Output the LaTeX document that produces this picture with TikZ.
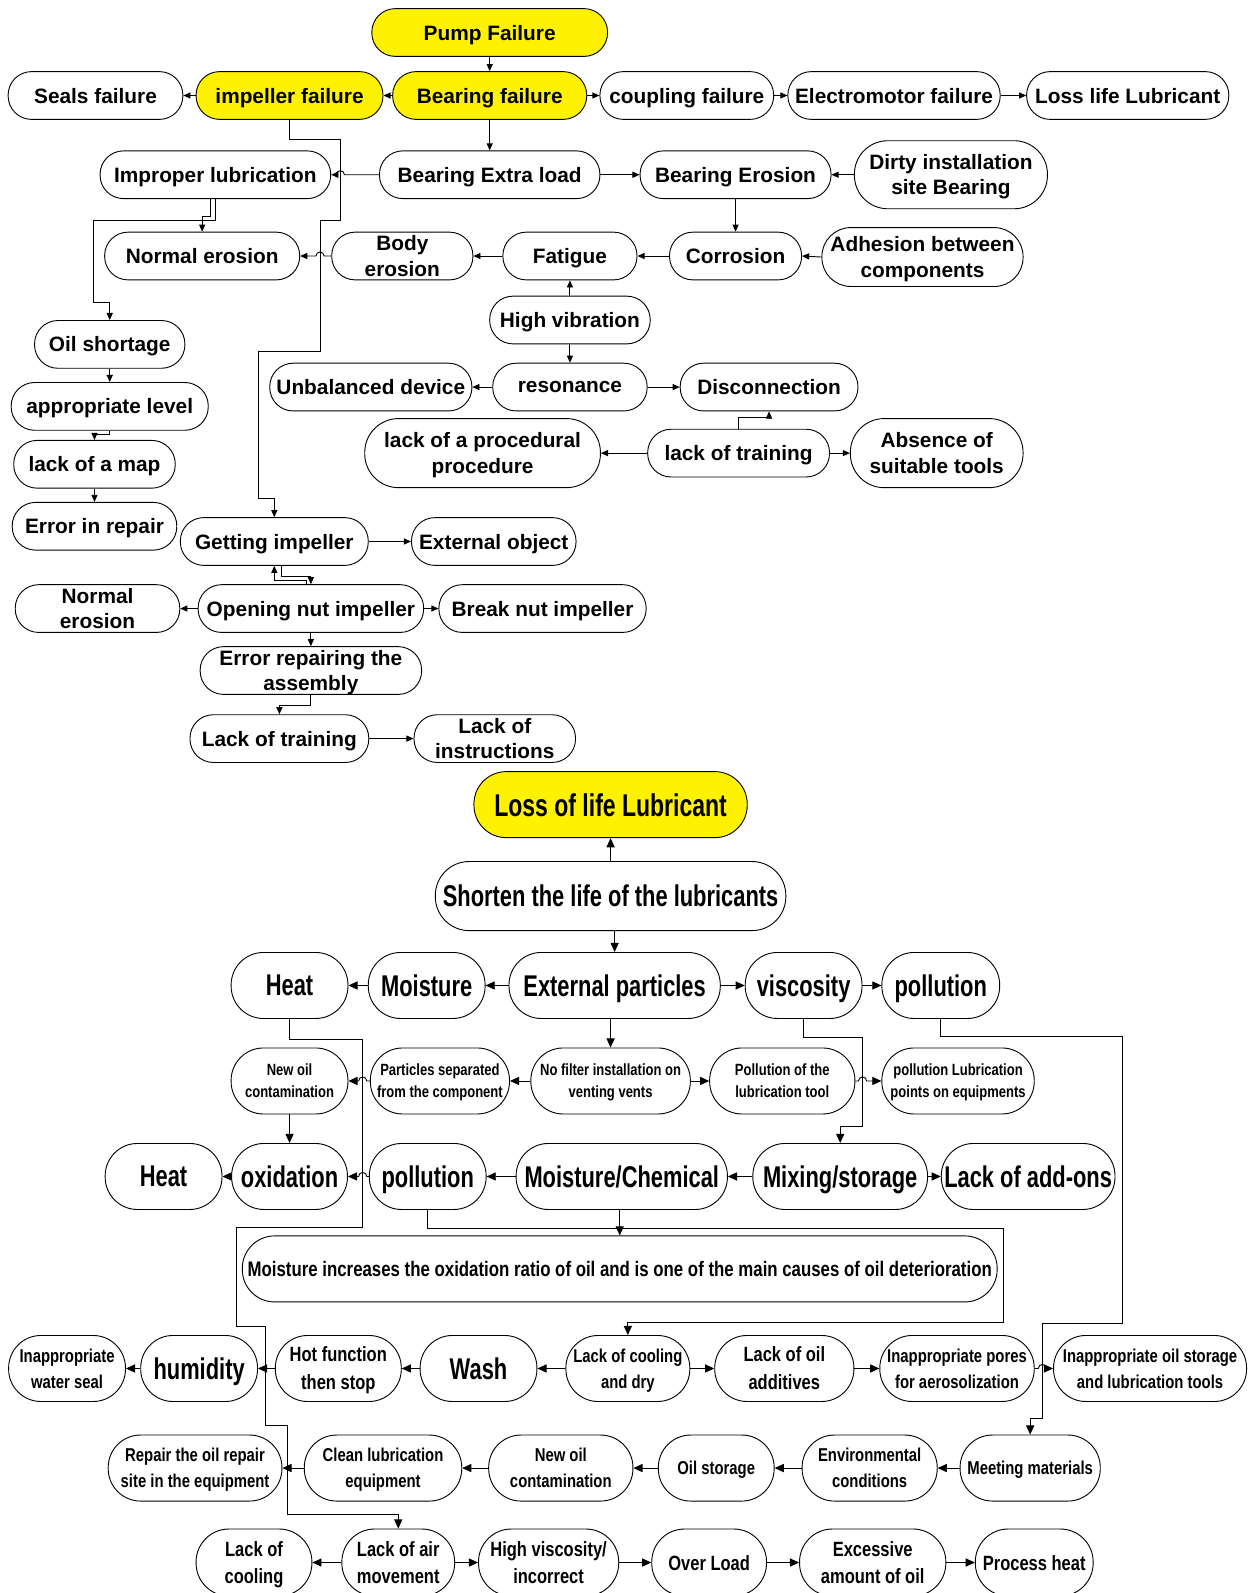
\documentclass[tikz,border=0pt]{standalone}
\usepackage{fontspec}
\setmainfont{Liberation Sans}
\newfontfamily\upf{Liberation Sans}
\newfontfamily\nA[FakeStretch=0.73]{Liberation Sans}
\newfontfamily\nB[FakeStretch=0.8]{Liberation Sans}
\newcommand\fntU{\upf\bfseries\fontsize{20.5}{25}\selectfont}
\newcommand\fntL{\nA\bfseries\fontsize{29.5}{33}\selectfont}
\newcommand\fntLL{\nA\bfseries\fontsize{31}{35}\selectfont}
\newcommand\fntM{\nB\bfseries\fontsize{18.3}{25.5}\selectfont}
\newcommand\fntMM{\nB\bfseries\fontsize{20.3}{27.5}\selectfont}
\newcommand\fntS{\nB\bfseries\fontsize{16}{21.5}\selectfont}
\newcommand\fntX{\nB\bfseries\fontsize{20.7}{25}\selectfont}
\usetikzlibrary{arrows.meta}
\tikzset{
 bxs/.style={draw, line width=0.9pt, rectangle, inner sep=0pt, align=center, fill=white, text depth=0pt},
 yel/.style={fill=yellow},
 con/.style={line width=0.9pt},
 ar/.style={con, -{Triangle[length=7pt,width=6pt]}},
 arL/.style={con, -{Triangle[length=9pt,width=8pt]}},
}
\newcommand\bx[7]{\node[bxs,minimum width=#4pt,minimum height=#5pt,rounded corners=#5pt*0.49,#6] (#1) at (#2,#3) {#7};}
\begin{document}
\begin{tikzpicture}[x=1pt,y=-1pt]
\fill[white] (0,0) rectangle (1238,1568);
\useasboundingbox (0,0) rectangle (1238,1568);
% ---------- upper part ----------
\bx{pump}{482}{32}{232}{47}{yel,font=\fntU}{Pump Failure}
\bx{seals}{94}{94}{172}{47}{font=\fntU}{Seals failure}
\bx{imp}{285}{94}{184}{47}{yel,font=\fntU}{impeller failure}
\bx{bear}{482}{94}{191}{47}{yel,font=\fntU}{Bearing failure}
\bx{coup}{676}{94}{171}{47}{font=\fntU}{coupling failure}
\bx{elec}{880}{94}{209}{47}{font=\fntU}{Electromotor failure}
\bx{lossl}{1110}{94}{199}{47}{font=\fntU}{Loss life Lubricant}
\bx{impl}{212}{172}{227}{47}{font=\fntU}{Improper lubrication}
\bx{extra}{482}{172}{217}{47}{font=\fntU}{Bearing Extra load}
\bx{berosion}{724}{172}{188}{47}{font=\fntU}{Bearing Erosion}
\bx{dirty}{936}{172}{190}{67}{font=\fntU}{Dirty installation\\site Bearing}
\bx{normal}{199}{252}{192}{47}{font=\fntU}{Normal erosion}
\bx{body}{396}{252}{139}{47}{font=\fntU}{Body\\erosion}
\bx{fatigue}{561}{252}{132}{47}{font=\fntU}{Fatigue}
\bx{corr}{724}{252}{130}{47}{font=\fntU}{Corrosion}
\bx{adh}{908}{253}{198}{58}{font=\fntU}{Adhesion between\\components}
\bx{hvib}{561}{315}{158}{47}{font=\fntU}{High vibration}
\bx{oil}{108}{339}{148}{47}{font=\fntU}{Oil shortage}
\bx{app}{108}{400}{194}{47}{font=\fntU}{appropriate level}
\bx{unbal}{365}{381}{199}{47}{font=\fntU}{Unbalanced device}
\bx{reson}{561}{381}{152}{47}{font=\fntU}{resonance}
\bx{disc}{757}{381}{175}{47}{font=\fntU}{Disconnection}
\bx{proc}{475}{446}{232}{68}{font=\fntU}{lack of a procedural\\procedure}
\bx{lt}{727}{446}{179}{47}{font=\fntU}{lack of training}
\bx{abs}{922}{446}{170}{68}{font=\fntU}{Absence of\\suitable tools}
\bx{map}{93}{457}{159}{47}{font=\fntU}{lack of a map}
\bx{errrep}{93}{518}{162}{47}{font=\fntU}{Error in repair}
\bx{getimp}{270}{533}{185}{47}{font=\fntU}{Getting impeller}
\bx{extobj}{486}{533}{162}{47}{font=\fntU}{External object}
\bx{norm2}{96}{599}{162}{47}{font=\fntU}{Normal\\erosion}
\bx{open}{306}{599}{222}{47}{font=\fntU}{Opening nut impeller}
\bx{brk}{534}{599}{204}{47}{font=\fntU}{Break nut impeller}
\bx{errass}{306}{660}{218}{47}{font=\fntU}{Error repairing the\\assembly}
\bx{lt2}{275}{727}{176}{47}{font=\fntU}{Lack of training}
\bx{inst}{487}{727}{159}{47}{font=\fntU}{Lack of\\instructions}
% ---------- upper connectors ----------
\draw[ar] (pump.south) -- (bear.north);
\draw[ar] (bear.west) -- (imp.east);
\draw[ar] (imp.west) -- (seals.east);
\draw[ar] (bear.east) -- (coup.west);
\draw[ar] (coup.east) -- (elec.west);
\draw[ar] (elec.east) -- (lossl.west);
\draw[ar] (bear.south) -- (extra.north);
\draw[ar] (extra.west) -- (339,172) arc[start angle=0,end angle=-180,radius=4] -- (impl.east);
\draw[ar] (extra.east) -- (berosion.west);
\draw[ar] (dirty.west) -- (berosion.east);
\draw[ar] (berosion.south) -- (corr.north);
\draw[ar] (adh.west) -- (corr.east);
\draw[ar] (corr.west) -- (fatigue.east);
\draw[ar] (fatigue.west) -- (body.east);
\draw[ar] (body.west) -- (319,252) arc[start angle=0,end angle=-180,radius=4] -- (normal.east);
\draw[ar] (hvib.north) -- (fatigue.south);
\draw[ar] (hvib.south) -- (reson.north);
\draw[ar] (reson.west) -- (unbal.east);
\draw[ar] (reson.east) -- (disc.west);
\draw[ar] (lt.north) -- (727,411) -- (757,411) -- (disc.south);
\draw[ar] (lt.west) -- (proc.east);
\draw[ar] (lt.east) -- (abs.west);
\draw[ar] (impl.south) -- (212,217) -- (92,217) -- (92,298) -- (108,298) -- (oil.north);
\draw[ar] ([xshift=-5pt]impl.south) -- (207,213) -- (199,213) -- (normal.north);
\draw[ar] (oil.south) -- (app.north);
\draw[ar] (app.south) -- (108,428) -- (93,428) -- (map.north);
\draw[ar] (map.south) -- (errrep.north);
\draw[ar] (imp.south) -- (285,137) -- (335,137) -- (335,217) -- (315,217) -- (315,346) -- (254,346) -- (254,491) -- (270,491) -- (getimp.north);
\draw[ar] (getimp.east) -- (extobj.west);
\draw[ar] ([xshift=7pt]getimp.south) -- (277,567) -- (306,567) -- (open.north);
\draw[ar] ([xshift=-4pt]open.north) -- (302,571) -- (270,571) -- (getimp.south);
\draw[ar] (open.west) -- (norm2.east);
\draw[ar] (open.east) -- (brk.west);
\draw[ar] (open.south) -- (errass.north);
\draw[ar] (errass.south) -- (306,694) -- (275,694) -- (lt2.north);
\draw[ar] (lt2.east) -- (inst.west);
% ---------- lower part ----------
\bx{lossLL}{601}{792}{269}{65}{yel,font=\fntLL}{Loss of life Lubricant}
\bx{shorten}{601}{882}{345}{68}{font=\fntL}{Shorten the life of the lubricants}
\bx{heat}{285}{970}{115}{65}{font=\fntL}{Heat}
\bx{moist}{420}{970}{115}{65}{font=\fntL}{Moisture}
\bx{extp}{605}{970}{208}{65}{font=\fntL}{External particles}
\bx{visc}{791}{970}{115}{65}{font=\fntL}{viscosity}
\bx{poll}{926}{970}{116}{65}{font=\fntL}{pollution}
\bx{newoil}{285}{1064}{115}{65}{font=\fntS}{New oil\\contamination}
\bx{partsep}{433}{1064}{137}{65}{font=\fntS}{Particles separated\\from the component}
\bx{nofilt}{601}{1064}{157}{65}{font=\fntS}{No filter installation on\\venting vents}
\bx{polltool}{770}{1064}{143}{65}{font=\fntS}{Pollution of the\\lubrication tool}
\bx{pollpts}{943}{1064}{150}{65}{font=\fntS}{pollution Lubrication\\points on equipments}
\bx{heat2}{161}{1158}{115}{65}{font=\fntL}{Heat}
\bx{oxid}{285}{1158}{114}{65}{font=\fntL}{oxidation}
\bx{poll2}{421}{1158}{115}{65}{font=\fntL}{pollution}
\bx{mchem}{612}{1158}{208}{65}{font=\fntL}{Moisture/Chemical}
\bx{mix}{827}{1158}{172}{65}{font=\fntL}{Mixing/storage}
\bx{addons}{1012}{1158}{171}{65}{font=\fntL}{Lack of add-ons}
\bx{moistinc}{610}{1249}{743}{65}{font=\fntX}{Moisture increases the oxidation ratio of oil and is one of the main causes of oil deterioration}
\bx{wseal}{66}{1347}{115}{65}{font=\fntM}{Inappropriate\\water seal}
\bx{humid}{196}{1347}{115}{65}{font=\fntL}{humidity}
\bx{hot}{333}{1347}{124}{65}{font=\fntMM}{Hot function\\then stop}
\bx{wash}{471}{1347}{115}{65}{font=\fntL}{Wash}
\bx{lcool}{618}{1347}{122}{65}{font=\fntM}{Lack of cooling\\and dry}
\bx{loa}{772}{1347}{137}{65}{font=\fntMM}{Lack of oil\\additives}
\bx{pores}{942}{1347}{152}{65}{font=\fntM}{Inappropriate pores\\for aerosolization}
\bx{ostor}{1132}{1347}{190}{65}{font=\fntM}{Inappropriate oil storage\\and lubrication tools}
\bx{repair}{192}{1445}{171}{65}{font=\fntM}{Repair the oil repair\\site in the equipment}
\bx{clean}{377}{1445}{155}{65}{font=\fntM}{Clean lubrication\\equipment}
\bx{newoil3}{552}{1445}{142}{65}{font=\fntM}{New oil\\contamination}
\bx{ostore}{705}{1445}{114}{65}{font=\fntM}{Oil storage}
\bx{env}{856}{1445}{133}{65}{font=\fntM}{Environmental\\conditions}
\bx{meet}{1014}{1445}{138}{65}{font=\fntM}{Meeting materials}
\bx{lcool2}{250}{1538}{114}{66}{font=\fntMM}{Lack of\\cooling}
\bx{air}{392}{1538}{111}{66}{font=\fntMM}{Lack of air\\movement}
\bx{hivis}{540}{1538}{138}{66}{font=\fntMM}{High viscosity/\\incorrect}
\bx{over}{698}{1538}{113}{66}{font=\fntMM}{Over Load}
\bx{exc}{859}{1538}{144}{66}{font=\fntMM}{Excessive\\amount of oil}
\bx{proc2}{1018}{1538}{116}{66}{font=\fntMM}{Process heat}
% ---------- lower connectors ----------
\draw[arL] (shorten.north) -- (lossLL.south);
\draw[arL] ([xshift=4pt]shorten.south) -- (extp.north);
\draw[arL] (extp.west) -- (moist.east);
\draw[arL] (moist.west) -- (heat.east);
\draw[arL] (extp.east) -- (visc.west);
\draw[arL] (visc.east) -- (poll.west);
\draw[arL] ([xshift=-4pt]extp.south) -- (nofilt.north);
\draw[arL] (nofilt.west) -- (partsep.east);
\draw[arL] (partsep.west) -- (361,1064) arc[start angle=0,end angle=-180,radius=4] -- (newoil.east);
\draw[arL] (nofilt.east) -- (polltool.west);
\draw[arL] (polltool.east) -- (845,1064) arc[start angle=180,end angle=360,radius=4] -- (pollpts.west);
\draw[arL] (newoil.south) -- (oxid.north);
\draw[arL] (oxid.west) -- (heat2.east);
\draw[arL] (poll2.west) -- (361,1158) arc[start angle=0,end angle=-180,radius=4] -- (oxid.east);
\draw[arL] (mchem.west) -- (poll2.east);
\draw[arL] (mix.west) -- (mchem.east);
\draw[arL] (mix.east) -- (addons.west);
\draw[arL] (visc.south) -- (791,1021) -- (849,1021) -- (849,1109) -- (827,1109) -- (mix.north);
\draw[arL] (poll.south) -- (926,1020) -- (1105,1020) -- (1105,1303) -- (1026,1303) -- (1026,1396) -- (1014,1396) -- (meet.north);
\draw[arL] (heat.south) -- (285,1023) -- (357,1023) -- (357,1208) -- (233,1208) -- (233,1306) -- (261,1306) -- (261,1403) -- (283,1403) -- (283,1491) -- (392,1491) -- (air.north);
\draw[arL] (mchem.south -| moistinc.north) -- (moistinc.north);
\draw[arL] (poll2.south) -- (421,1209) -- (988,1209) -- (988,1302) -- (618,1302) -- (lcool.north);
\draw[arL] (lcool.west) -- (wash.east);
\draw[arL] (wash.west) -- (hot.east);
\draw[arL] (hot.west) -- (humid.east);
\draw[arL] (humid.west) -- (wseal.east);
\draw[arL] (lcool.east) -- (loa.west);
\draw[arL] (loa.east) -- (pores.west);
\draw[arL] (pores.east) -- (1022,1347) arc[start angle=180,end angle=360,radius=4] -- (ostor.west);
\draw[arL] (meet.west) -- (env.east);
\draw[arL] (env.west) -- (ostore.east);
\draw[arL] (ostore.west) -- (newoil3.east);
\draw[arL] (newoil3.west) -- (clean.east);
\draw[arL] (clean.west) -- (repair.east);
\draw[arL] (air.west) -- (lcool2.east);
\draw[arL] (air.east) -- (hivis.west);
\draw[arL] (hivis.east) -- (over.west);
\draw[arL] (over.east) -- (exc.west);
\draw[arL] (exc.east) -- (proc2.west);
\end{tikzpicture}
\end{document}
